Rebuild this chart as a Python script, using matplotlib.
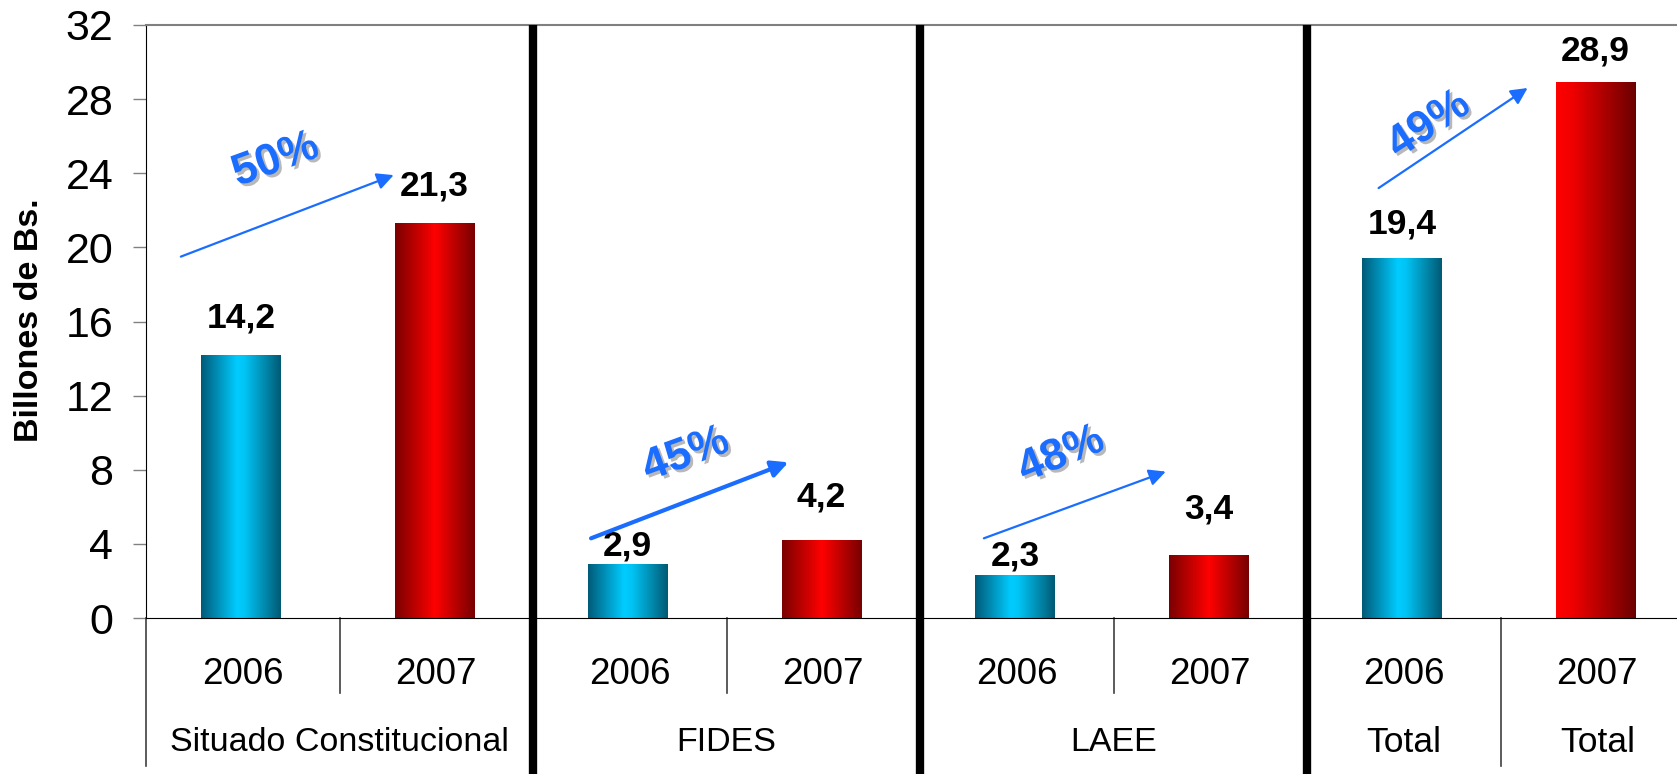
import numpy as np
import matplotlib
matplotlib.use('Agg')
import matplotlib.pyplot as plt
import matplotlib.patheffects as pe
from matplotlib.colors import LinearSegmentedColormap

plt.rcParams['font.family'] = ['Liberation Sans', 'DejaVu Sans']

groups = ['Situado Constitucional', 'FIDES', 'LAEE', 'Total']
years = ['2006', '2007']
v2006 = [14.2, 2.9, 2.3, 19.4]
v2007 = [21.3, 4.2, 3.4, 28.9]
pct_labels = ['50%', '45%', '48%', '49%']
yticks = [0, 4, 8, 12, 16, 20, 24, 28, 32]

# manual placement of the annotations (x in bar slots, y in data units)
label_gap = [37, 37, 18, 43, 19, 46, 34, 31]          # px above bar top
arrows = [((-0.32, 19.5), (0.78, 23.9), 1.6),
          ((1.80, 4.3), (2.82, 8.4), 3.0),
          ((3.83, 4.3), (4.77, 7.9), 1.6),
          ((5.87, 23.2), (6.64, 28.6), 1.6)]
pct_pos = [(0.17, 24.7, 20), (2.29, 8.8, 20), (4.23, 8.8, 22), (6.13, 26.6, 33)]

blue_cm = LinearSegmentedColormap.from_list(
    'b', [(0, '#005a78'), (0.45, '#00ccff'), (0.55, '#00c4f4'), (1, '#005a74')])
red_cm = LinearSegmentedColormap.from_list(
    'r', [(0, '#7a0000'), (0.5, '#ff0000'), (1, '#780000')])
red_tot_cm = LinearSegmentedColormap.from_list(
    'rt', [(0, '#ff0000'), (0.2, '#f00000'), (1, '#6a0000')])

fig = plt.figure(figsize=(16.77, 7.74), dpi=100)
ax = fig.add_axes([146 / 1677, 156 / 774, 1548 / 1677, 593 / 774])

values = []
for a, b in zip(v2006, v2007):
    values += [a, b]
x = np.arange(len(values))
w = 0.41
bars = ax.bar(x - 0.01, values, width=w, color='none', edgecolor='none', zorder=2)

grad = np.linspace(0, 1, 256).reshape(1, -1)
for i, (bar, v) in enumerate(zip(bars, values)):
    if i % 2 == 0:
        cm = blue_cm
    elif i == 7:
        cm = red_tot_cm
    else:
        cm = red_cm
    im = ax.imshow(grad, cmap=cm, aspect='auto', zorder=2,
                   extent=[bar.get_x(), bar.get_x() + w, 0, v])
    im.set_clip_path(bar)
    ax.annotate(f'{v:.1f}'.replace('.', ','), (bar.get_x() + w / 2, v),
                xytext=(0, label_gap[i] * 0.72), textcoords='offset points',
                ha='center', va='center', fontsize=25.5, fontweight='bold')

ax.set_xlim(-0.5, 7.5)
ax.set_ylim(0, 32)
ax.set_yticks(yticks)
ax.tick_params(axis='y', labelsize=31, length=9.5, width=1, color='#808080', pad=14)
ax.set_xticks([])

ax.spines['right'].set_visible(False)
ax.spines['top'].set_color('#808080')
ax.spines['top'].set_linewidth(1.5)
ax.spines['left'].set_color('black')
ax.spines['bottom'].set_color('black')

tr = ax.get_xaxis_transform()
# thick separators between groups
for xs in [1.5, 3.5, 5.5]:
    ax.plot([xs, xs], [1, -0.3], color='black', lw=6, transform=tr,
            clip_on=False, zorder=5, solid_capstyle='butt')
# thin separators in the label area
for xs in [0.5, 2.5, 4.5]:
    ax.plot([xs, xs], [0, -0.127], color='#404040', lw=1.2, transform=tr, clip_on=False)
for xs in [-0.5, 6.5]:
    ax.plot([xs, xs], [0, -0.25], color='#404040', lw=1.2, transform=tr, clip_on=False)

for i in range(len(values)):
    ax.text(i, -0.095, years[i % 2], transform=tr, ha='center', va='center', fontsize=26.5)
for gi, g in enumerate(groups[:3]):
    ax.text(2 * gi + 0.5, -0.21, g, transform=tr, ha='center', va='center', fontsize=24.5)
ax.text(6, -0.21, groups[3], transform=tr, ha='center', va='center', fontsize=25.5)
ax.text(7, -0.21, groups[3], transform=tr, ha='center', va='center', fontsize=25.5)

blue = '#1a6dff'
for (p0, p1, lw) in arrows:
    ax.annotate('', xy=p1, xytext=p0,
                arrowprops=dict(arrowstyle='-|>', color=blue, lw=lw,
                                mutation_scale=25, shrinkA=0, shrinkB=0), zorder=4)
for lab, (px, py, rot) in zip(pct_labels, pct_pos):
    ax.text(px, py, lab, ha='center', va='center', rotation=rot, fontsize=32,
            fontweight='bold', color=blue, zorder=4,
            path_effects=[pe.withSimplePatchShadow(offset=(2, -2), shadow_rgbFace='#9a9a9a', alpha=0.7)])

fig.text(29 / 1677, 1 - 320 / 774, 'Billones de Bs.', rotation=90, ha='center', va='center',
         fontsize=24.5, fontweight='bold')

fig.savefig('out.png', dpi=100)
